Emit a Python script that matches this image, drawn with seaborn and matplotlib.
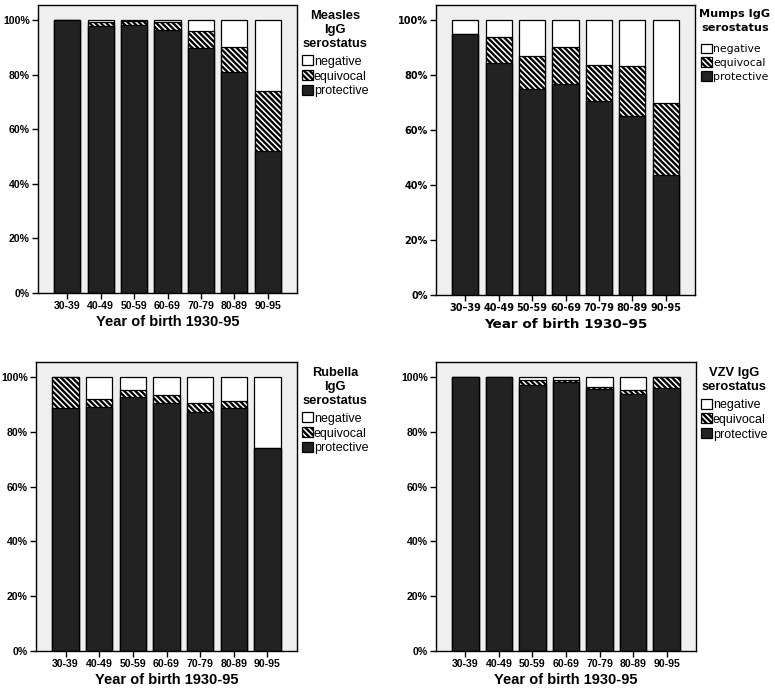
import pandas as pd
import seaborn as sns
import matplotlib.pyplot as plt
from matplotlib.patches import Patch

groups = ["30-39", "40-49", "50-59", "60-69", "70-79", "80-89", "90-95"]
groups_mumps = ["30–39", "40-49", "50-59", "60-69", "70-79", "80-89", "90-95"]

# percent of each birth cohort: protective / equivocal / negative
measles_protective = [100.0, 97.8, 98.3, 96.3, 89.6, 81.0, 52.2]
measles_equivocal = [0.0, 1.5, 1.2, 2.8, 6.5, 9.1, 21.8]
measles_negative = [0.0, 0.7, 0.5, 0.9, 3.9, 9.9, 26.0]

mumps_protective = [95.1, 84.4, 75.0, 76.8, 70.5, 65.1, 43.7]
mumps_equivocal = [0.0, 9.5, 12.0, 13.5, 13.1, 18.3, 26.0]
mumps_negative = [4.9, 6.1, 13.0, 9.7, 16.4, 16.6, 30.3]

rubella_protective = [88.7, 89.0, 92.7, 90.6, 87.3, 88.7, 74.0]
rubella_equivocal = [11.3, 3.1, 2.7, 2.7, 3.1, 2.5, 0.0]
rubella_negative = [0.0, 7.9, 4.6, 6.7, 9.6, 8.8, 26.0]

vzv_protective = [100.0, 100.0, 97.1, 98.3, 95.6, 93.8, 95.9]
vzv_equivocal = [0.0, 0.0, 1.9, 0.5, 0.6, 1.6, 4.1]
vzv_negative = [0.0, 0.0, 1.0, 1.2, 3.8, 4.6, 0.0]

ytick_values = [0, 20, 40, 60, 80, 100]

sns.set_style("ticks", {"axes.facecolor": "#efefef", "axes.edgecolor": "black"})
plt.rcParams["hatch.linewidth"] = 1.7
plt.rcParams["font.family"] = ["Liberation Sans", "DejaVu Sans"]
for key in ["text.color", "axes.labelcolor", "xtick.color", "ytick.color"]:
    plt.rcParams[key] = "black"

DARK = "#222222"
HATCH = "\\\\\\\\\\\\"

fig = plt.figure(figsize=(7.75, 6.93), dpi=100)
W, H = 775, 693


def panel(box, labels, prot, equi, neg, title, font, sizes, spacing):
    left, top, right, bottom = box
    ax = fig.add_axes([left / W, 1 - bottom / H, (right - left) / W, (bottom - top) / H])
    df = pd.DataFrame({"group": labels, "protective": prot, "equivocal": equi, "negative": neg})
    df["mid"] = df["protective"] + df["equivocal"]
    df["top"] = df["mid"] + df["negative"]
    common = dict(x="group", order=labels, errorbar=None, saturation=1, width=0.78,
                  edgecolor="black", linewidth=0.9, ax=ax)
    sns.barplot(df, y="top", color="white", **common)
    sns.barplot(df, y="mid", color="white", hatch=HATCH, **common)
    sns.barplot(df, y="protective", color=DARK, **common)

    tick_fs, xl_fs, title_fs, leg_fs = sizes
    ax.set_xlim(-0.88, 6.88)
    ax.set_ylim(0, 105.5)
    ax.set_yticks(ytick_values)
    ax.set_yticklabels([f"{v}%" for v in ytick_values], fontsize=tick_fs,
                       fontweight="bold", family=font)
    ax.set_xticks(range(len(labels)))
    ax.set_xticklabels(labels, fontsize=tick_fs, fontweight="bold", family=font)
    ax.tick_params(axis="both", direction="out", length=4, width=1, pad=2, colors="black")
    ax.set_ylabel("")
    ax.set_xlabel("Year of birth 1930" + ("–" if font == "DejaVu Sans" else "-") + "95",
                  fontsize=xl_fs, fontweight="bold", family=font, labelpad=3, color="black")
    for s in ax.spines.values():
        s.set_visible(True)
        s.set_linewidth(1)
        s.set_color("black")

    label_gap, title_gap, title_lines, handle = spacing
    handles = [
        Patch(facecolor="white", edgecolor="black", linewidth=0.9),
        Patch(facecolor="white", edgecolor="black", hatch=HATCH, linewidth=0.9),
        Patch(facecolor=DARK, edgecolor="black", linewidth=0.9),
    ]
    leg = ax.legend(handles, ["negative", "equivocal", "protective"], loc="upper left",
                    bbox_to_anchor=(1.0, 1.0), borderaxespad=0.0, frameon=False,
                    handlelength=handle, handleheight=handle, handletextpad=0.1,
                    labelspacing=label_gap, title=title, labelcolor="black",
                    prop={"family": font, "size": leg_fs},
                    title_fontproperties={"family": font, "size": title_fs, "weight": "bold"})
    leg.get_title().set_multialignment("center")
    leg.get_title().set_linespacing(title_lines)
    leg.get_title().set_color("black")
    leg._legend_box.align = "center"
    leg._legend_box.sep = title_gap
    return ax


arial = (7.6, 10.5, 9.3, 9.0)
lucida = (7.0, 9.7, 8.1, 7.8)
arial_sp = (0.2, 4.2, 1.2, 0.85)
lucida_sp = (0.3, 8.0, 1.4, 1.0)

panel((38, 5, 297, 293), groups, measles_protective, measles_equivocal, measles_negative,
      "Measles\nIgG\nserostatus", "Liberation Sans", arial, arial_sp)
panel((436, 5, 695, 295), groups_mumps, mumps_protective, mumps_equivocal, mumps_negative,
      "Mumps IgG\nserostatus", "DejaVu Sans", lucida, lucida_sp)
panel((36, 362, 297, 651), groups, rubella_protective, rubella_equivocal, rubella_negative,
      "Rubella\nIgG\nserostatus", "Liberation Sans", arial, arial_sp)
panel((436, 362, 696, 651), groups, vzv_protective, vzv_equivocal, vzv_negative,
      "VZV IgG\nserostatus", "Liberation Sans", arial, arial_sp)

fig.savefig("out.png", dpi=100)
